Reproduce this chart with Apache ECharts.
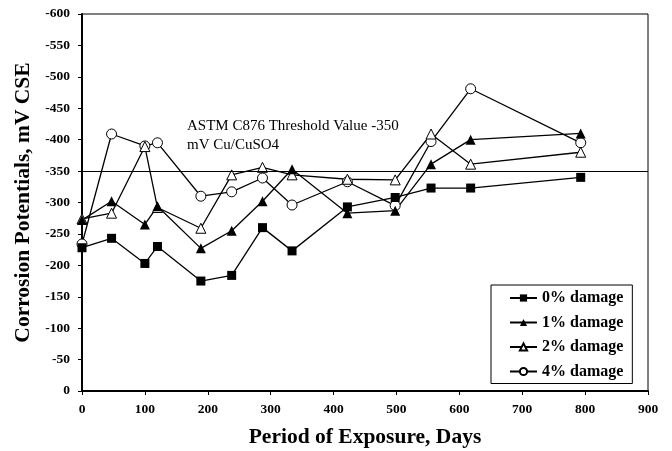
<!DOCTYPE html>
<html>
<head>
<meta charset="utf-8">
<script src="https://cdn.jsdelivr.net/npm/echarts@6/dist/echarts.min.js"></script>
<style>
  html, body { margin: 0; padding: 0; background: #fff; }
  #chart { width: 672px; height: 451px; }
</style>
</head>
<body>
<div id="chart"></div>
<script>
// Exposure period (days) at each reading
const days = [0, 47, 100, 120, 189, 238, 287, 334, 422, 498, 555, 618, 793];

// Corrosion potentials (mV CSE) per damage level
const damage0 = [-228, -243, -203, -230, -175, -184, -260, -223, -293, -308, -323, -323, -340];
const damage1 = [-272, -302, -265, -294, -227, -255, -302, -353, -283, -287, -361, -400, -410];
const damage2 = [-274, -283, -389, -292, -259, -344, -356, -344, -337, -336, -409, -361, -380];
const damage4 = [-234, -409, -390, -395, -310, -317, -339, -296, -333, -295, -397, -481, -395];

const seriesNames = ['0% damage', '1% damage', '2% damage', '4% damage'];
const threshold = -350;
const thresholdText = 'ASTM C876 Threshold Value -350\nmV Cu/CuSO4';

const serif = '"Liberation Serif", "Times New Roman", serif';

function pairs(values) {
  return days.map((d, i) => [d, values[i]]);
}

function lineSeries(name, values, symbol, size, filled) {
  return {
    name: name,
    type: 'line',
    data: pairs(values),
    symbol: symbol,
    symbolSize: size,
    showAllSymbol: true,
    lineStyle: { color: '#000', width: 1.3 },
    itemStyle: {
      color: filled ? '#000' : '#fff',
      borderColor: '#000',
      borderWidth: filled ? 0 : 1
    },
    emphasis: { disabled: true },
    z: 3
  };
}

const chart = echarts.init(document.getElementById('chart'), null, { renderer: 'canvas' });

const series = [
  lineSeries(seriesNames[3], damage4, 'circle', 10, false),
  lineSeries(seriesNames[2], damage2, 'triangle', 10, false),
  lineSeries(seriesNames[1], damage1, 'triangle', 10, true),
  lineSeries(seriesNames[0], damage0, 'rect', 9, true)
];

// Threshold reference line across the whole plot
series[0].markLine = {
  silent: true,
  symbol: ['none', 'none'],
  label: { show: false },
  lineStyle: { color: '#000', width: 1, type: 'solid' },
  data: [{ yAxis: threshold }]
};

chart.setOption({
  animation: false,
  backgroundColor: '#fff',
  grid: {
    left: 82, right: 24, top: 14, bottom: 60,
    outerBoundsMode: 'none',
    containLabel: false,
    show: true, borderColor: '#000', borderWidth: 1
  },
  xAxis: {
    type: 'value',
    min: 0, max: 900, interval: 100,
    name: 'Period of Exposure, Days',
    nameLocation: 'middle',
    nameGap: 35,
    nameTextStyle: { fontFamily: serif, fontWeight: 'bold', fontSize: 21.5, color: '#000' },
    axisLine: { show: true, lineStyle: { color: '#000', width: 2 } },
    axisTick: { show: true, inside: false, length: 4, lineStyle: { color: '#000', width: 1 } },
    axisLabel: { fontFamily: serif, fontWeight: 'bold', fontSize: 13.5, color: '#000', margin: 12 },
    splitLine: { show: false }
  },
  yAxis: {
    type: 'value',
    min: -600, max: 0, interval: 50,
    inverse: true,
    name: 'Corrosion Potentials, mV CSE',
    nameLocation: 'middle',
    nameGap: 47,
    nameTextStyle: { fontFamily: serif, fontWeight: 'bold', fontSize: 21.5, color: '#000' },
    axisLine: { show: true, lineStyle: { color: '#000', width: 2 } },
    axisTick: { show: true, inside: false, length: 4, lineStyle: { color: '#000', width: 1 } },
    axisLabel: { fontFamily: serif, fontWeight: 'bold', fontSize: 13.5, color: '#000', margin: 12 },
    splitLine: { show: false }
  },
  legend: {
    orient: 'vertical',
    left: 491, top: 285,
    data: seriesNames,
    itemWidth: 27, itemHeight: 9,
    itemGap: 8.5,
    itemTextGap: 4,
    padding: [5, 9, 4, 18],
    borderColor: '#000', borderWidth: 1,
    backgroundColor: '#fff',
    textStyle: { fontFamily: serif, fontWeight: 'bold', fontSize: 16, lineHeight: 16, color: '#000' },
    selectedMode: false
  },
  graphic: [{
    type: 'text',
    left: 187, top: 117,
    style: {
      text: thresholdText,
      font: '15px ' + serif,
      fill: '#000',
      lineHeight: 19
    }
  }],
  series: series
});
</script>
</body>
</html>
